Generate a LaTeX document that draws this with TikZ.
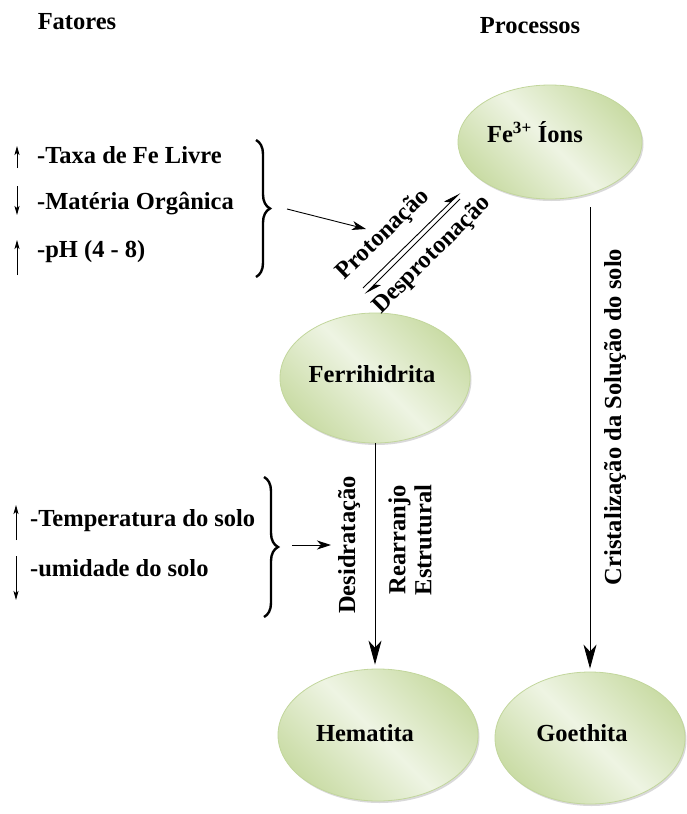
\documentclass[tikz,border=0pt]{standalone}
\usepackage{fontspec}
\setmainfont{Liberation Serif}
\usetikzlibrary{arrows.meta,shapes.geometric,decorations.pathreplacing,shadows,calc}
\definecolor{eledge}{HTML}{C2D69C}
\definecolor{eldark}{HTML}{CADCA6}
\definecolor{ellight}{HTML}{EEF4E3}
\begin{document}
\begin{tikzpicture}[x=1pt,y=-1pt,
  font=\fontsize{24.5}{26}\selectfont\bfseries,
  oval/.style={ellipse, draw=eledge, line width=0.8pt, inner sep=0pt,
    shading=axis, left color=eldark, right color=eldark, middle color=ellight,
    shading angle=135,
    drop shadow={shadow xshift=1.5pt, shadow yshift=-2pt, opacity=0.25, fill=black!60}},
  bigarrow/.style={line width=0.8pt, -{Stealth[length=24pt,width=13pt,inset=7pt]}},
  midarrow/.style={line width=0.9pt, -{Stealth[length=14pt,width=9pt,inset=4pt]}},
  smallarrow/.style={line width=0.8pt, -{Stealth[length=9pt,width=5pt,inset=2pt]}},
  harp/.style={line width=0.9pt, -{Stealth[left,length=16pt,width=10pt,inset=4pt]}},
  bracestyle/.style={line width=2.4pt, decorate, decoration={brace, amplitude=14pt}},
  item/.style={anchor=west, inner sep=0pt}
]
\useasboundingbox (0,0) rectangle (686,814);

% headings
\node (fat) at (77,22) {Fatores};
\node (pro) at (530,26) {Processos};

% ellipses
\node[oval, minimum width=184pt, minimum height=114pt] (fe) at (550,142) {};
\node (feT) at (535,132) {Fe\textsuperscript{3+} Íons};
\node[oval, minimum width=190pt, minimum height=130pt] (fer) at (375,378) {};
\node (ferT) at (372,374) {Ferrihidrita};
\node[oval, minimum width=200pt, minimum height=132pt] (hem) at (378,735) {};
\node (hemT) at (365,733) {Hematita};
\node[oval, minimum width=190pt, minimum height=132pt] (goe) at (590,738) {};
\node (goeT) at (582,733) {Goethita};

% factors block 1
\node[item] (t1) at (37,155) {-Taxa de Fe Livre};
\node[item] (t2) at (37,204) {-Matéria Orgânica};
\node[item] (t3) at (37,252) {-pH (4 - 8)};
\draw[smallarrow] (17,168) -- (17,146);
\draw[smallarrow] (17,186) -- (17,215);
\draw[smallarrow] (17,275) -- (17,240);
\draw[bracestyle] (256,140) -- (256,277);
\coordinate (b1s) at (287,209);
\coordinate (b1e) at (366,229);
\draw[midarrow] (b1s) -- (b1e);

% factors block 2
\node[item] (t4) at (30,521) {-Temperatura do solo};
\node[item] (t5) at (30,568) {-umidade do solo};
\draw[smallarrow] (16,540) -- (16,505);
\draw[smallarrow] (16,556) -- (16,600);
\draw[bracestyle] (264,477) -- (264,617);
\coordinate (b2s) at (292,545);
\coordinate (b2e) at (331,545);
\draw[midarrow] (b2s) -- (b2e);

% protonation arrows
\coordinate (h1s) at (363,288);
\coordinate (h1e) at (460,193);
\coordinate (h2s) at (460,199);
\coordinate (h2e) at (365,294);
\draw[harp] (h1s) -- (h1e);
\draw[harp] (h2s) -- (h2e);
\node[rotate=44] (prot) at (383,235) {Protonação};
\node[rotate=45] (desp) at (432,255) {Desprotonação};

% process arrows
\draw[bigarrow, shorten >=4pt] (fer.south) -- (fer.south |- hem.north);
\node[rotate=90] (des) at (349,545) {Desidratação};
\node[rotate=90, align=center] (rea) at (410,540) {Rearranjo\\Estrutural};

\draw[bigarrow, shorten <=8pt, shorten >=3pt] (goe.north |- fe.south) -- (goe.north);
\node[rotate=90] (cri) at (615,417) {Cristalização da Solução do solo};
\end{tikzpicture}
\end{document}
